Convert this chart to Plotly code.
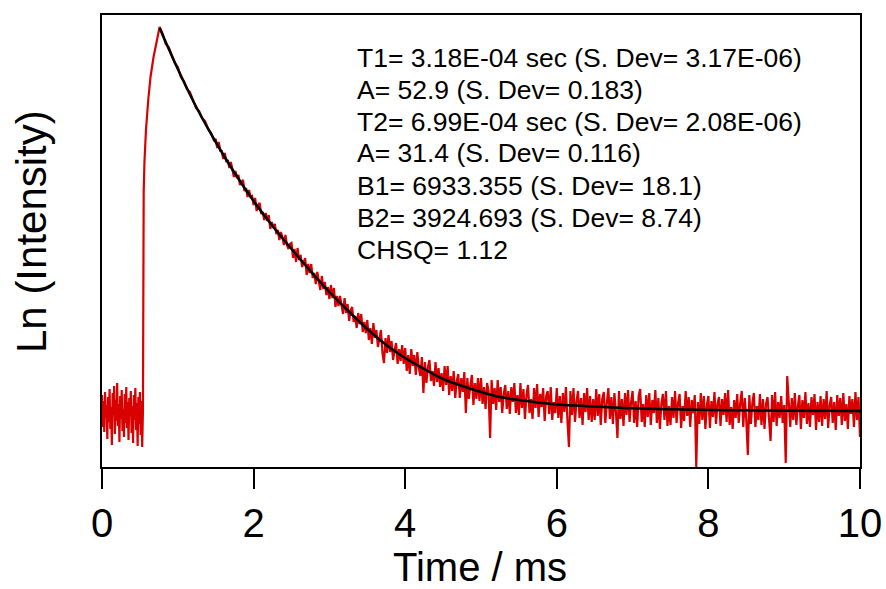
import plotly.graph_objects as go

# ---- measured trace (Ln intensity, arbitrary units), time in ms ----
t_pre = [0.00, 0.01, 0.02, 0.03, 0.04, 0.05, 0.06, 0.07, 0.08, 0.09,
         0.10, 0.11, 0.12, 0.13, 0.14, 0.15, 0.16, 0.17, 0.18, 0.19,
         0.20, 0.21, 0.22, 0.23, 0.24, 0.25, 0.26, 0.27, 0.28, 0.29,
         0.30, 0.31, 0.32, 0.33, 0.34, 0.35, 0.36, 0.37, 0.38, 0.39,
         0.40, 0.41, 0.42, 0.43, 0.44, 0.45, 0.46, 0.47, 0.48, 0.49,
         0.50, 0.51, 0.52, 0.53, 0.54]
h_pre = [72, 40, 66, 35, 75, 50, 62, 28, 70, 45,
         78, 38, 60, 22, 74, 52, 81, 33, 67, 46,
         84, 41, 63, 25, 71, 48, 77, 36, 58, 30,
         73, 44, 80, 39, 65, 27, 69, 51, 76, 34,
         61, 24, 72, 47, 79, 37, 64, 21, 70, 43,
         75, 32, 66, 20, 55]

t_rise = [0.545, 0.55, 0.56, 0.58, 0.61, 0.64, 0.68, 0.72, 0.76]
h_rise = [250, 275, 305, 337, 367, 390, 410, 427, 440]

t_peak = [0.80, 0.84, 0.88, 0.92, 0.96, 1.00, 1.04, 1.08, 1.12, 1.16, 1.20, 1.24, 1.28, 1.32, 1.36, 1.40, 1.44, 1.48]
h_peak = [433, 423, 420, 411, 404, 400, 390, 386, 378, 375, 367, 359, 356, 349, 346, 338, 334, 326]

t_decay = [
    1.50, 1.52, 1.54, 1.56, 1.58, 1.60, 1.62, 1.64, 1.66, 1.68, 1.70, 1.72, 1.74, 1.76, 1.78, 1.80, 1.82, 1.84, 1.86, 1.88, 1.90, 1.92, 1.94, 1.96, 1.98,
    2.00, 2.02, 2.04, 2.06, 2.08, 2.10, 2.12, 2.14, 2.16, 2.18, 2.20, 2.22, 2.24, 2.26, 2.28, 2.30, 2.32, 2.34, 2.36, 2.38, 2.40, 2.42, 2.44, 2.46, 2.48,
    2.50, 2.52, 2.54, 2.56, 2.58, 2.60, 2.62, 2.64, 2.66, 2.68, 2.70, 2.72, 2.74, 2.76, 2.78, 2.80, 2.82, 2.84, 2.86, 2.88, 2.90, 2.92, 2.94, 2.96, 2.98,
    3.00, 3.02, 3.04, 3.06, 3.08, 3.10, 3.12, 3.14, 3.16, 3.18, 3.20, 3.22, 3.24, 3.26, 3.28, 3.30, 3.32, 3.34, 3.36, 3.38, 3.40, 3.42, 3.44, 3.46, 3.48,
    3.50, 3.52, 3.54, 3.56, 3.58, 3.60, 3.62, 3.64, 3.66, 3.68, 3.70, 3.72, 3.74, 3.76, 3.78, 3.80, 3.82, 3.84, 3.86, 3.88, 3.90, 3.92, 3.94, 3.96, 3.98,
    4.00, 4.02, 4.04, 4.06, 4.08, 4.10, 4.12, 4.14, 4.16, 4.18, 4.20, 4.22, 4.24, 4.26, 4.28, 4.30, 4.32, 4.34, 4.36, 4.38, 4.40, 4.42, 4.44, 4.46, 4.48,
    4.50, 4.52, 4.54, 4.56, 4.58, 4.60, 4.62, 4.64, 4.66, 4.68, 4.70, 4.72, 4.74, 4.76, 4.78, 4.80, 4.82, 4.84, 4.86, 4.88, 4.90, 4.92, 4.94, 4.96, 4.98,
    5.00, 5.02, 5.04, 5.06, 5.08, 5.10, 5.12, 5.14, 5.16, 5.18, 5.20, 5.22, 5.24, 5.26, 5.28, 5.30, 5.32, 5.34, 5.36, 5.38, 5.40, 5.42, 5.44, 5.46, 5.48,
    5.50, 5.52, 5.54, 5.56, 5.58, 5.60, 5.62, 5.64, 5.66, 5.68, 5.70, 5.72, 5.74, 5.76, 5.78, 5.80, 5.82, 5.84, 5.86, 5.88, 5.90, 5.92, 5.94, 5.96, 5.98,
    6.00, 6.02, 6.04, 6.06, 6.08, 6.10, 6.12, 6.14, 6.16, 6.18, 6.20, 6.22, 6.24, 6.26, 6.28, 6.30, 6.32, 6.34, 6.36, 6.38, 6.40, 6.42, 6.44, 6.46, 6.48,
    6.50, 6.52, 6.54, 6.56, 6.58, 6.60, 6.62, 6.64, 6.66, 6.68, 6.70, 6.72, 6.74, 6.76, 6.78, 6.80, 6.82, 6.84, 6.86, 6.88, 6.90, 6.92, 6.94, 6.96, 6.98,
    7.00, 7.02, 7.04, 7.06, 7.08, 7.10, 7.12, 7.14, 7.16, 7.18, 7.20, 7.22, 7.24, 7.26, 7.28, 7.30, 7.32, 7.34, 7.36, 7.38, 7.40, 7.42, 7.44, 7.46, 7.48,
    7.50, 7.52, 7.54, 7.56, 7.58, 7.60, 7.62, 7.64, 7.66, 7.68, 7.70, 7.72, 7.74, 7.76, 7.78, 7.80, 7.82, 7.84, 7.86, 7.88, 7.90, 7.92, 7.94, 7.96, 7.98,
    8.00, 8.02, 8.04, 8.06, 8.08, 8.10, 8.12, 8.14, 8.16, 8.18, 8.20, 8.22, 8.24, 8.26, 8.28, 8.30, 8.32, 8.34, 8.36, 8.38, 8.40, 8.42, 8.44, 8.46, 8.48,
    8.50, 8.52, 8.54, 8.56, 8.58, 8.60, 8.62, 8.64, 8.66, 8.68, 8.70, 8.72, 8.74, 8.76, 8.78, 8.80, 8.82, 8.84, 8.86, 8.88, 8.90, 8.92, 8.94, 8.96, 8.98,
    9.00, 9.02, 9.04, 9.06, 9.08, 9.10, 9.12, 9.14, 9.16, 9.18, 9.20, 9.22, 9.24, 9.26, 9.28, 9.30, 9.32, 9.34, 9.36, 9.38, 9.40, 9.42, 9.44, 9.46, 9.48,
    9.50, 9.52, 9.54, 9.56, 9.58, 9.60, 9.62, 9.64, 9.66, 9.68, 9.70, 9.72, 9.74, 9.76, 9.78, 9.80, 9.82, 9.84, 9.86, 9.88, 9.90, 9.92, 9.94, 9.96, 9.98,
    10.00,
]
h_decay = [
    328, 319, 325, 316, 316, 308, 314, 305, 307, 299, 305, 297, 290, 296, 289, 292, 282, 285, 287, 276, 279, 270, 277, 270, 271,
    262, 269, 256, 262, 264, 253, 255, 247, 254, 246, 252, 238, 245, 239, 243, 233, 237, 227, 235, 230, 222, 232, 222, 218, 223,
    224, 209, 218, 205, 219, 207, 212, 200, 205, 209, 192, 203, 194, 203, 189, 194, 183, 195, 186, 177, 191, 178, 185, 172, 180,
    168, 182, 169, 179, 160, 171, 161, 171, 162, 153, 169, 154, 163, 146, 157, 160, 145, 151, 139, 154, 143, 153, 135, 145, 134,
    147, 127, 139, 123, 144, 129, 137, 120, 130, 137, 114, 104, 129, 114, 132, 115, 126, 107, 117, 124, 103, 118, 106, 122, 103,
    119, 96, 112, 93, 118, 101, 112, 92, 115, 99, 91, 110, 74, 105, 84, 100, 107, 86, 96, 81, 105, 85, 99, 80, 94,
    76, 101, 82, 101, 72, 91, 76, 96, 69, 86, 93, 69, 89, 75, 95, 54, 89, 68, 82, 92, 62, 84, 68, 89, 66,
    89, 63, 80, 58, 84, 76, 29, 87, 63, 79, 57, 87, 65, 80, 54, 73, 82, 58, 76, 53, 80, 65, 84, 54, 72,
    52, 84, 59, 78, 48, 72, 82, 54, 68, 48, 79, 59, 83, 50, 73, 60, 79, 46, 71, 76, 53, 80, 47, 65, 54,
    79, 49, 71, 44, 74, 55, 80, 47, 20, 76, 52, 79, 45, 66, 76, 49, 69, 42, 74, 55, 79, 47, 71, 45, 68,
    47, 78, 51, 73, 42, 68, 75, 44, 64, 79, 48, 70, 43, 74, 55, 29, 76, 48, 68, 41, 74, 52, 77, 45, 65,
    76, 44, 66, 40, 71, 78, 45, 63, 40, 72, 50, 74, 42, 67, 54, 77, 44, 69, 38, 64, 73, 47, 76, 41, 61,
    42, 70, 49, 76, 44, 64, 73, 39, 61, 46, 76, 51, 70, 40, 67, 54, 72, 0, 65, 43, 74, 47, 71, 38, 62,
    71, 39, 66, 50, 75, 43, 63, 70, 41, 68, 52, 74, 45, 77, 42, 60, 38, 67, 49, 73, 44, 64, 76, 40, 69,
    47, 12, 72, 43, 64, 74, 40, 61, 47, 73, 42, 68, 38, 63, 70, 50, 26, 72, 45, 75, 41, 65, 49, 71, 44,
    62, 4, 91, 66, 40, 69, 47, 74, 42, 61, 72, 38, 67, 49, 75, 43, 64, 40, 70, 52, 73, 37, 65, 45, 71,
    41, 68, 48, 76, 39, 62, 70, 44, 65, 37, 72, 51, 69, 42, 74, 46, 63, 38, 71, 53, 68, 40, 75, 47, 70,
    30,
]

# ---- fitted bi-exponential curve ----
fit_t = [0.76, 1.00, 1.25, 1.50, 1.75, 2.00, 2.25, 2.50, 2.75, 3.00, 3.25, 3.50, 3.75, 4.00,
         4.25, 4.50, 4.75, 5.00, 5.25, 5.50, 5.75, 6.00, 6.50, 7.00, 7.50, 8.00, 9.00, 10.00]
fit_h = [439, 398, 359, 325, 294, 266, 241, 218, 196, 175, 156, 138, 122, 109,
         98, 88, 81, 75, 70, 67, 64.5, 62.5, 60.5, 58.7, 57.7, 57.0, 56.3, 56.0]

x_ticks = [0, 2, 4, 6, 8, 10]

fit_text = [
    "T1= 3.18E-04 sec (S. Dev= 3.17E-06)",
    "A= 52.9 (S. Dev= 0.183)",
    "T2= 6.99E-04 sec (S. Dev= 2.08E-06)",
    "A= 31.4 (S. Dev= 0.116)",
    "B1= 6933.355 (S. Dev= 18.1)",
    "B2= 3924.693 (S. Dev= 8.74)",
    "CHSQ= 1.12",
]

assert len(t_pre) == len(h_pre)
assert len(t_rise) == len(h_rise)
assert len(t_peak) == len(h_peak)
assert len(t_decay) == len(h_decay), (len(t_decay), len(h_decay))
assert len(fit_t) == len(fit_h)

t_data = t_pre + t_rise + t_peak + t_decay
h_data = h_pre + h_rise + h_peak + h_decay
assert all(b > a for a, b in zip(t_data, t_data[1:]))

FONT = "Arial, Liberation Sans, sans-serif"

fig = go.Figure()
fig.add_trace(go.Scatter(x=t_data, y=h_data, mode="lines",
                         line=dict(color="#d80000", width=2.2), showlegend=False,
                         hoverinfo="skip"))
fig.add_trace(go.Scatter(x=fit_t, y=fit_h, mode="lines",
                         line=dict(color="black", width=2.5, shape="spline"),
                         showlegend=False, hoverinfo="skip"))

W, H = 886, 589
L, T = 102, 15
PW, PH = 758, 452
R = W - L - PW
B = H - T - PH


def px(xp):
    return (xp - L) / PW


def py(yp):
    return 1 - (yp - T) / PH


annotations = []
line_y = [58, 90, 122, 153, 186, 218, 250]
for txt, yy in zip(fit_text, line_y):
    annotations.append(dict(
        text=txt, xref="paper", yref="paper",
        x=px(355), y=py(yy),
        xanchor="left", yanchor="middle", showarrow=False,
        font=dict(family=FONT, size=26.5, color="black"), align="left",
    ))
annotations.append(dict(
    text="Time / ms", xref="paper", yref="paper", x=px(480), y=py(567),
    xanchor="center", yanchor="middle", showarrow=False,
    font=dict(family=FONT, size=40, color="black"),
))
annotations.append(dict(
    text="Ln (Intensity)", xref="paper", yref="paper", x=px(31), y=py(232),
    xanchor="center", yanchor="middle", showarrow=False, textangle=-90,
    font=dict(family=FONT, size=42, color="black"),
))

fig.update_layout(
    width=W, height=H,
    margin=dict(l=L, r=R, t=T, b=B, pad=0, autoexpand=False),
    paper_bgcolor="white", plot_bgcolor="white",
    font=dict(family=FONT, color="black"),
    showlegend=False,
    annotations=annotations,
    xaxis=dict(
        range=[0, 10], tickvals=x_ticks, ticktext=[str(v) for v in x_ticks],
        showline=True, linecolor="black", linewidth=2, mirror=True,
        ticks="outside", ticklen=20, tickwidth=2, tickcolor="black",
        showgrid=False, zeroline=False, automargin=False,
        ticklabeloverflow="allow",
        tickfont=dict(family=FONT, size=40, color="black"),
    ),
    yaxis=dict(
        range=[0, 452],
        showline=True, linecolor="black", linewidth=2, mirror=True,
        ticks="", showticklabels=False, showgrid=False, zeroline=False,
        automargin=False,
    ),
)

# remove the browser's default 8px page margin so the figure fills the window
fig.write_html("out.html",
               config={"displayModeBar": False},
               post_script="document.body.style.margin='0';document.body.style.overflow='hidden';")
